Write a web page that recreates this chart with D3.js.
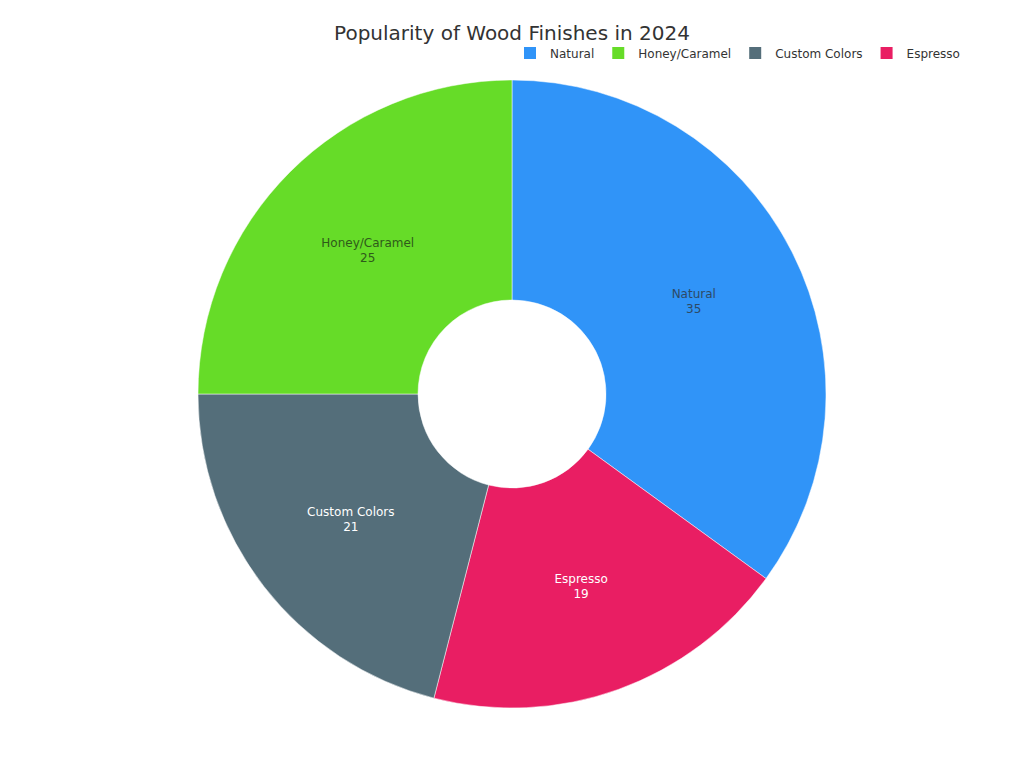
<!DOCTYPE html>
<html>
<head>
<meta charset="utf-8">
<script src="https://cdn.jsdelivr.net/npm/d3@7"></script>
<style>
  body { margin: 0; background: #fff; }
  text { font-family: "DejaVu Sans", sans-serif; }
</style>
</head>
<body>
<div id="chart"></div>
<script>
// data
var categories = ["Natural", "Espresso", "Custom Colors", "Honey/Caramel"];
var values = [35, 19, 21, 25];
var legendOrder = ["Natural", "Honey/Caramel", "Custom Colors", "Espresso"];
var colors = {
    "Natural": "#3094f8",
    "Honey/Caramel": "#66dc28",
    "Custom Colors": "#546e7a",
    "Espresso": "#e91e63"
};
var labelColors = {
    "Natural": "#2d4a66",
    "Honey/Caramel": "#2f5a1a",
    "Custom Colors": "#ffffff",
    "Espresso": "#ffffff"
};

var width = 1024, height = 768;
var cx = 512, cy = 394;
var outerR = 314, innerR = 94;

var svg = d3.select("#chart").append("svg")
    .attr("width", width)
    .attr("height", height);

svg.append("text")
    .attr("x", 512)
    .attr("y", 40)
    .attr("text-anchor", "middle")
    .attr("font-size", 20)
    .attr("fill", "#333")
    .text("Popularity of Wood Finishes in 2024");

var data = categories.map(function(c, i) { return {name: c, value: values[i]}; });

var pie = d3.pie().sort(null).value(function(d) { return d.value; });
var arc = d3.arc().innerRadius(innerR).outerRadius(outerR);

var g = svg.append("g").attr("transform", "translate(" + cx + "," + cy + ")");

var slices = g.selectAll("g.slice").data(pie(data)).enter().append("g").attr("class", "slice");

slices.append("path")
    .attr("d", arc)
    .attr("fill", function(d) { return colors[d.data.name]; })
    .attr("stroke", "#fff")
    .attr("stroke-width", 0.5);

var labels = slices.append("text")
    .attr("transform", function(d) { return "translate(" + arc.centroid(d) + ")"; })
    .attr("text-anchor", "middle")
    .attr("font-size", 12)
    .attr("fill", function(d) { return labelColors[d.data.name]; });

labels.append("tspan").attr("x", 0).attr("y", -3).text(function(d) { return d.data.name; });
labels.append("tspan").attr("x", 0).attr("y", 12).text(function(d) { return d.data.value; });

// legend
var legend = svg.append("g").attr("transform", "translate(524,47)");
var lx = 0;
legendOrder.forEach(function(name) {
    var item = legend.append("g").attr("transform", "translate(" + lx + ",0)");
    item.append("rect")
        .attr("width", 12).attr("height", 12)
        .attr("fill", colors[name]);
    var t = item.append("text")
        .attr("x", 26).attr("y", 10.5)
        .attr("font-size", 12)
        .attr("fill", "#333")
        .text(name);
    lx += 26 + t.node().getComputedTextLength() + 18;
});
</script>
</body>
</html>
